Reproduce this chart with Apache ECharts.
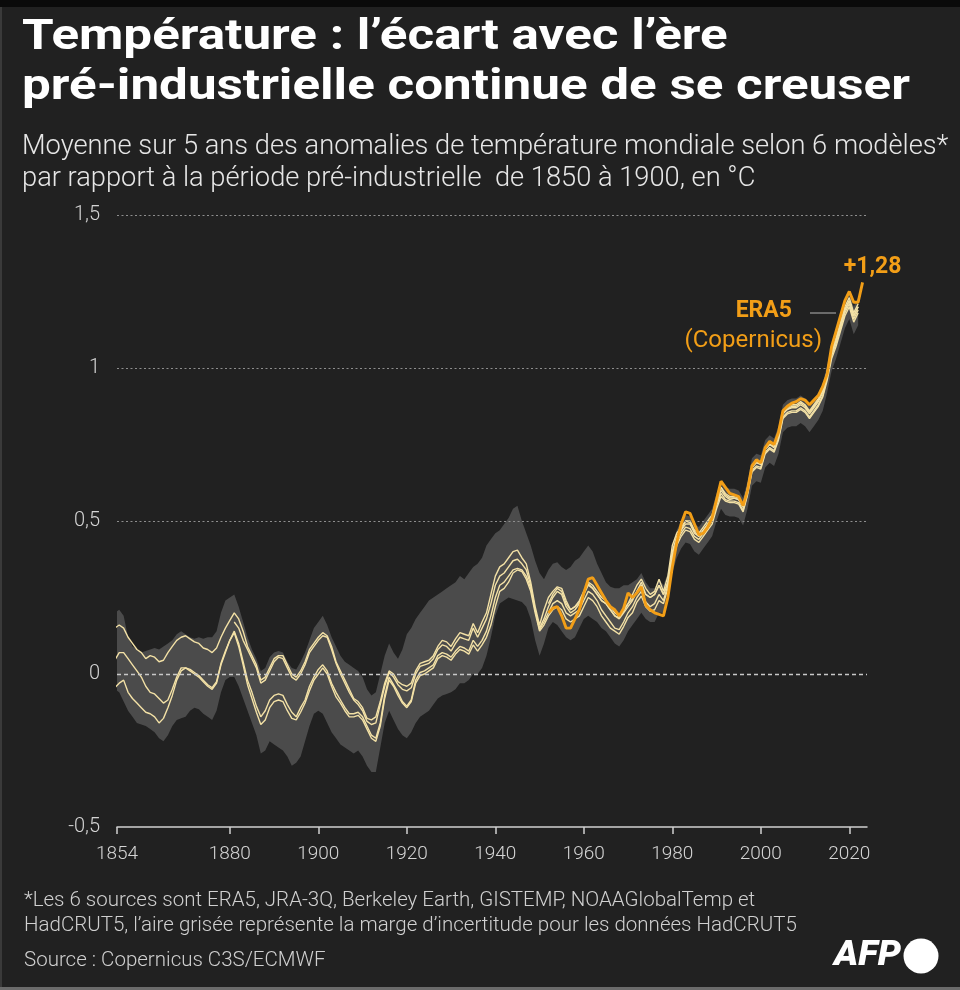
<!DOCTYPE html>
<html><head><meta charset="utf-8">
<script src="https://cdn.jsdelivr.net/npm/echarts@6/dist/echarts.min.js"></script>
<style>html,body{margin:0;padding:0;background:#212121;}#c{width:960px;height:990px;}</style>
</head><body><div id="c"></div>
<script>
// ---------------- DATA (5-year means, °C vs 1850-1900) ----------------
const startMain = 1854;   // NOAA, HadCRUT5, Berkeley, band
const startGiss = 1881;
const startJra = 1952;
const startEra5 = 1952;

const noaaGlobalTemp = [
 0.15,0.16,0.15,0.12,0.10,0.08,0.07,0.05,0.06,0.055,
 0.04,0.045,0.07,0.09,0.11,0.12,0.125,0.115,0.105,0.10,
 0.085,0.08,0.07,0.085,0.12,0.15,0.175,0.20,0.18,0.14,
 0.09,0.06,0.03,-0.02,-0.01,0.02,0.05,0.06,0.06,0.03,
 0.0,-0.01,0.01,0.04,0.08,0.10,0.12,0.135,0.125,0.09,
 0.04,0.01,-0.02,-0.05,-0.08,-0.09,-0.11,-0.145,-0.15,-0.14,
 -0.09,-0.03,0.01,0.0,-0.025,-0.035,-0.04,-0.03,0.01,0.035,
 0.04,0.045,0.06,0.09,0.11,0.105,0.09,0.115,0.135,0.13,
 0.125,0.165,0.135,0.17,0.20,0.26,0.32,0.35,0.36,0.38,
 0.40,0.405,0.38,0.36,0.30,0.22,0.16,0.21,0.25,0.27,
 0.285,0.28,0.24,0.21,0.22,0.24,0.27,0.30,0.29,0.27,
 0.25,0.24,0.22,0.20,0.19,0.21,0.23,0.26,0.29,0.31,
 0.28,0.26,0.27,0.31,0.27,0.32,0.42,0.46,0.48,0.50,
 0.50,0.47,0.46,0.48,0.50,0.52,0.57,0.61,0.59,0.58,
 0.58,0.575,0.55,0.61,0.68,0.70,0.69,0.74,0.76,0.75,
 0.79,0.86,0.87,0.88,0.88,0.89,0.88,0.86,0.88,0.90,
 0.93,0.99,1.06,1.10,1.15,1.20,1.23,1.18,1.21
];
const gistemp = [
 0.17,0.15,0.11,0.08,0.05,0.02,-0.03,-0.02,0.01,0.04,
 0.055,0.05,0.02,-0.01,-0.02,0.0,0.03,0.07,0.09,0.11,
 0.125,0.12,0.08,0.035,0.0,-0.03,-0.06,-0.085,-0.10,-0.12,
 -0.155,-0.165,-0.16,-0.10,-0.04,0.005,-0.01,-0.035,-0.05,-0.055,
 -0.045,0.0,0.025,0.03,0.035,0.05,0.08,0.095,0.09,0.075,
 0.10,0.12,0.115,0.11,0.15,0.12,0.15,0.18,0.23,0.29,
 0.32,0.33,0.35,0.37,0.375,0.36,0.34,0.29,0.21,0.15,
 0.18,0.22,0.25,0.27,0.26,0.22,0.20,0.21,0.23,0.26,
 0.29,0.28,0.26,0.24,0.23,0.21,0.19,0.18,0.20,0.22,
 0.24,0.27,0.29,0.26,0.25,0.26,0.29,0.26,0.30,0.40,
 0.45,0.47,0.49,0.49,0.46,0.45,0.47,0.49,0.51,0.56,
 0.60,0.58,0.57,0.575,0.57,0.545,0.60,0.675,0.69,0.685,
 0.735,0.75,0.74,0.78,0.85,0.865,0.87,0.87,0.88,0.87,
 0.85,0.87,0.89,0.92,0.98,1.05,1.09,1.14,1.19,1.22,
 1.17,1.20
];
const hadcrut5 = [
 0.045,0.07,0.07,0.05,0.03,0.01,-0.01,-0.04,-0.06,-0.065,
 -0.08,-0.095,-0.085,-0.05,-0.01,0.02,0.02,0.01,0.0,-0.01,
 -0.025,-0.04,-0.05,-0.03,0.03,0.07,0.11,0.14,0.10,0.04,
 -0.02,-0.06,-0.105,-0.14,-0.12,-0.085,-0.07,-0.065,-0.07,-0.10,
 -0.125,-0.14,-0.11,-0.085,-0.04,-0.01,0.015,0.03,0.01,-0.03,
 -0.06,-0.085,-0.11,-0.13,-0.13,-0.125,-0.14,-0.17,-0.20,-0.21,
 -0.16,-0.07,-0.01,-0.035,-0.06,-0.09,-0.105,-0.085,-0.02,0.005,
 0.01,0.02,0.03,0.06,0.07,0.065,0.055,0.075,0.09,0.085,
 0.075,0.11,0.09,0.11,0.14,0.19,0.25,0.29,0.30,0.32,
 0.34,0.345,0.34,0.32,0.28,0.21,0.145,0.17,0.20,0.23,
 0.24,0.23,0.20,0.19,0.20,0.21,0.24,0.27,0.26,0.24,
 0.21,0.19,0.17,0.15,0.145,0.17,0.20,0.22,0.25,0.27,
 0.235,0.22,0.23,0.26,0.24,0.29,0.38,0.43,0.46,0.48,
 0.475,0.45,0.44,0.46,0.48,0.50,0.55,0.59,0.57,0.565,
 0.565,0.56,0.535,0.59,0.665,0.68,0.675,0.725,0.74,0.73,
 0.77,0.84,0.855,0.86,0.86,0.87,0.86,0.84,0.86,0.88,
 0.91,0.97,1.04,1.08,1.13,1.18,1.21,1.16,1.19
];
const berkeleyEarth = [
 -0.045,-0.03,-0.02,-0.06,-0.08,-0.095,-0.11,-0.125,-0.13,-0.14,
 -0.16,-0.145,-0.11,-0.07,-0.02,0.01,0.02,0.015,0.005,-0.005,
 -0.02,-0.035,-0.045,-0.025,0.035,0.075,0.11,0.135,0.09,0.03,
 -0.035,-0.08,-0.125,-0.165,-0.15,-0.11,-0.09,-0.085,-0.09,-0.12,
 -0.145,-0.15,-0.125,-0.095,-0.055,-0.02,0.0,0.02,0.0,-0.04,
 -0.075,-0.095,-0.12,-0.14,-0.14,-0.135,-0.15,-0.18,-0.21,-0.22,
 -0.17,-0.08,-0.02,-0.04,-0.07,-0.095,-0.11,-0.09,-0.03,-0.005,
 0.0,0.01,0.02,0.05,0.06,0.055,0.045,0.065,0.08,0.075,
 0.065,0.095,0.075,0.095,0.12,0.16,0.22,0.27,0.28,0.30,
 0.33,0.34,0.335,0.31,0.27,0.20,0.14,0.16,0.19,0.21,
 0.22,0.21,0.18,0.17,0.18,0.19,0.22,0.25,0.24,0.22,
 0.19,0.17,0.15,0.14,0.13,0.155,0.185,0.20,0.235,0.255,
 0.22,0.205,0.21,0.24,0.23,0.28,0.37,0.42,0.45,0.47,
 0.465,0.44,0.43,0.45,0.47,0.49,0.54,0.58,0.565,0.56,
 0.56,0.555,0.53,0.585,0.66,0.675,0.67,0.72,0.735,0.725,
 0.765,0.835,0.85,0.855,0.855,0.865,0.855,0.835,0.855,0.875,
 0.905,0.96,1.03,1.07,1.12,1.17,1.20,1.15,1.18
];
const jra3q = [
 0.23,0.26,0.28,0.27,0.23,0.21,0.22,0.235,0.265,0.295,
 0.28,0.26,0.24,0.23,0.21,0.19,0.185,0.205,0.23,0.245,
 0.27,0.30,0.26,0.25,0.26,0.29,0.26,0.30,0.39,0.44,
 0.47,0.50,0.495,0.465,0.45,0.47,0.49,0.51,0.56,0.61,
 0.585,0.575,0.575,0.57,0.545,0.60,0.675,0.695,0.685,0.735,
 0.75,0.745,0.785,0.855,0.865,0.875,0.875,0.885,0.875,0.855,
 0.875,0.895,0.925,0.98,1.05,1.09,1.14,1.19,1.22,1.17,
 1.20
];
const era5 = [
 0.20,0.215,0.22,0.19,0.15,0.15,0.18,0.21,0.265,0.31,
 0.315,0.29,0.265,0.24,0.22,0.21,0.19,0.215,0.265,0.25,
 0.265,0.285,0.225,0.21,0.20,0.195,0.19,0.25,0.35,0.43,
 0.49,0.53,0.525,0.49,0.455,0.46,0.48,0.51,0.57,0.63,
 0.61,0.59,0.585,0.58,0.55,0.60,0.68,0.70,0.69,0.74,
 0.76,0.75,0.79,0.86,0.875,0.885,0.89,0.90,0.895,0.88,
 0.895,0.91,0.94,0.98,1.07,1.12,1.17,1.22,1.25,1.215,
 1.215,1.28
];
// HadCRUT5 uncertainty range (grey area)
const bandLow = [
 -0.05,-0.06,-0.09,-0.12,-0.14,-0.16,-0.165,-0.17,-0.18,-0.19,
 -0.21,-0.22,-0.20,-0.17,-0.15,-0.145,-0.14,-0.12,-0.11,-0.115,
 -0.13,-0.14,-0.15,-0.12,-0.06,-0.02,-0.01,-0.01,-0.04,-0.08,
 -0.12,-0.16,-0.20,-0.26,-0.25,-0.22,-0.23,-0.24,-0.25,-0.27,
 -0.30,-0.29,-0.27,-0.22,-0.17,-0.13,-0.12,-0.13,-0.16,-0.19,
 -0.21,-0.23,-0.24,-0.25,-0.26,-0.25,-0.27,-0.30,-0.32,-0.32,
 -0.24,-0.16,-0.12,-0.15,-0.18,-0.20,-0.21,-0.19,-0.16,-0.14,
 -0.13,-0.12,-0.10,-0.08,-0.07,-0.065,-0.06,-0.05,-0.03,-0.03,
 -0.02,0.0,0.0,0.02,0.06,0.12,0.19,0.23,0.24,0.25,
 0.245,0.24,0.235,0.22,0.18,0.11,0.06,0.10,0.15,0.17,
 0.16,0.14,0.12,0.11,0.12,0.15,0.18,0.19,0.18,0.17,
 0.15,0.14,0.12,0.10,0.09,0.11,0.14,0.16,0.18,0.20,
 0.18,0.17,0.17,0.20,0.20,0.24,0.33,0.38,0.41,0.43,
 0.425,0.40,0.39,0.41,0.43,0.45,0.50,0.54,0.52,0.515,
 0.515,0.51,0.485,0.54,0.615,0.63,0.625,0.675,0.69,0.68,
 0.72,0.79,0.805,0.81,0.81,0.82,0.81,0.79,0.81,0.83,
 0.86,0.92,0.99,1.03,1.08,1.13,1.16,1.11,1.14
];
const bandHigh = [
 0.20,0.21,0.19,0.12,0.09,0.08,0.07,0.075,0.08,0.085,
 0.08,0.09,0.10,0.11,0.13,0.14,0.13,0.12,0.115,0.12,
 0.115,0.12,0.12,0.14,0.20,0.24,0.25,0.26,0.22,0.17,
 0.12,0.08,0.05,0.01,0.02,0.055,0.07,0.075,0.07,0.04,
 0.02,0.015,0.04,0.07,0.11,0.15,0.17,0.19,0.16,0.12,
 0.09,0.06,0.04,0.03,0.02,0.01,-0.01,-0.05,-0.07,-0.06,
 0.0,0.06,0.10,0.07,0.05,0.08,0.13,0.15,0.18,0.20,
 0.22,0.24,0.25,0.26,0.27,0.28,0.29,0.30,0.32,0.31,
 0.33,0.35,0.36,0.38,0.42,0.44,0.46,0.47,0.49,0.51,
 0.54,0.55,0.50,0.46,0.42,0.37,0.33,0.31,0.34,0.36,
 0.365,0.35,0.34,0.35,0.37,0.38,0.40,0.42,0.40,0.36,
 0.33,0.30,0.285,0.28,0.28,0.29,0.29,0.30,0.31,0.33,
 0.30,0.28,0.28,0.31,0.29,0.33,0.42,0.47,0.50,0.52,
 0.515,0.49,0.48,0.50,0.52,0.54,0.59,0.63,0.61,0.605,
 0.605,0.60,0.575,0.63,0.705,0.72,0.715,0.765,0.78,0.77,
 0.81,0.88,0.895,0.90,0.90,0.91,0.90,0.88,0.90,0.92,
 0.95,1.01,1.08,1.12,1.17,1.22,1.25,1.20,1.23
];
const xTickValues = [1854.5, 1880, 1900, 1920, 1940, 1960, 1980, 2000, 2020];
const xTickLabels = ['1854','1880','1900','1920','1940','1960','1980','2000','2020'];
const yGridValues = [0.5, 1, 1.5];
const lastValueLabel = '+1,28';

// ---------------- BUILD ----------------
const pairs = (start, arr) => arr.map((v, i) => [start + i, v]);

const FONT = "Roboto, 'Noto Sans', sans-serif";
const CREAM = '#f3e1a6';
const ORANGE = '#f29e17';

function whiteLine(name, start, arr) {
  return {
    name, type: 'line', data: pairs(start, arr), showSymbol: false, symbol: 'none',
    lineStyle: { color: CREAM, width: 1.4 }, z: 3, silent: true
  };
}

function txt(x, y, text, font, fill, align, sx) {
  return { type: 'text', x, y, scaleX: sx || 1, silent: true,
    style: { text, font, fill, align: align || 'left', textAlign: align || 'left',
             verticalAlign: 'middle', textVerticalAlign: 'middle' } };
}

const chart = echarts.init(document.getElementById('c'), null, { renderer: 'canvas' });
chart.setOption({
  animation: false,
  backgroundColor: '#212121',
  grid: { left: 117, top: 215, width: 750, height: 612, containLabel: false },
  xAxis: {
    type: 'value', min: 1854.5, max: 2024,
    axisLine: { show: true, onZero: false, lineStyle: { color: '#d0d0d0', width: 1.5 } },
    axisTick: { show: true, customValues: xTickValues, length: 7, inside: false,
                lineStyle: { color: '#d0d0d0', width: 1.5 } },
    axisLabel: { customValues: xTickValues, margin: 18, color: '#d4d4d4',
                 fontFamily: FONT, fontWeight: 300, fontSize: 19,
                 formatter: v => xTickLabels[xTickValues.indexOf(v)] || String(v) },
    splitLine: { show: false }
  },
  yAxis: {
    type: 'value', min: -0.5, max: 1.5, interval: 0.5,
    axisLine: { show: false }, axisTick: { show: false },
    axisLabel: { margin: 17, color: '#d4d4d4', fontFamily: FONT, fontWeight: 300, fontSize: 20,
                 formatter: v => String(v).replace('.', ',') },
    splitLine: { show: false }
  },
  series: [
    { name: 'HadCRUT5 range', type: 'custom', z: 1, silent: true, clip: true,
      data: [[startMain, 0]], encode: { x: 0, y: 1 },
      renderItem: (params, api) => {
        const pts = [];
        for (let i = 0; i < bandHigh.length; i++) pts.push(api.coord([startMain + i, bandHigh[i]]));
        for (let i = bandLow.length - 1; i >= 0; i--) pts.push(api.coord([startMain + i, bandLow[i]]));
        const cs = params.coordSys;
        return { type: 'polygon', shape: { points: pts }, style: { fill: '#4b4b4b' },
                 clipPath: { type: 'rect', shape: { x: cs.x, y: cs.y, width: cs.width, height: cs.height } } };
      } },
    { name: 'grid', type: 'line', data: pairs(startMain, hadcrut5), symbol: 'none',
      lineStyle: { width: 0, opacity: 0 }, z: 2, silent: true,
      markLine: {
        silent: true, symbol: 'none', label: { show: false }, animation: false,
        data: yGridValues.map(v => ({ yAxis: v, lineStyle: { color: '#8e8e8e', width: 1, type: [2, 2.5] } }))
          .concat([{ yAxis: 0, lineStyle: { color: '#c8c8c8', width: 1.4, type: [4, 3] } }])
      } },
    whiteLine('NOAAGlobalTemp', startMain, noaaGlobalTemp),
    whiteLine('GISTEMP', startGiss, gistemp),
    whiteLine('HadCRUT5', startMain, hadcrut5),
    whiteLine('Berkeley Earth', startMain, berkeleyEarth),
    whiteLine('JRA-3Q', startJra, jra3q),
    { name: 'ERA5', type: 'line', data: pairs(startEra5, era5), symbol: 'none', showSymbol: false,
      lineStyle: { color: ORANGE, width: 2.9 }, z: 5, silent: true,
      markPoint: {
        silent: true, symbol: 'circle', symbolSize: 0,
        data: [{ coord: [startEra5 + era5.length - 1, era5[era5.length - 1]] }],
        label: { show: true, position: 'top', distance: 4, offset: [10, 0],
                 formatter: lastValueLabel, color: ORANGE, fontFamily: FONT,
                 fontWeight: 'bold', fontSize: 23 }
      } }
  ],
  graphic: [
    { type: 'rect', silent: true, shape: { x: 0, y: 0, width: 960, height: 7 }, style: { fill: '#0a0a0a' } },
    { type: 'rect', silent: true, shape: { x: 0, y: 987, width: 960, height: 3 }, style: { fill: '#6b6b6b' } },
    { type: 'rect', silent: true, shape: { x: 0, y: 7, width: 2, height: 980 }, style: { fill: '#3a3a3a' } },
    txt(22, 38, 'Température : l’écart avec l’ère', 'bold 43px ' + FONT, '#ffffff', 'left', 1.19),
    txt(22, 88, 'pré-industrielle continue de se creuser', 'bold 43px ' + FONT, '#ffffff', 'left', 1.19),
    txt(22, 147, 'Moyenne sur 5 ans des anomalies de température mondiale selon 6 modèles*', '300 27px ' + FONT, '#e6e6e6', 'left', 1.01),
    txt(22, 179, 'par rapport à la période pré-industrielle  de 1850 à 1900, en °C', '300 27px ' + FONT, '#e6e6e6', 'left', 1.01),
    txt(792, 311, 'ERA5', 'bold 23px ' + FONT, ORANGE, 'right'),
    txt(822, 341, '(Copernicus)', '24px ' + FONT, ORANGE, 'right'),
    { type: 'line', silent: true, shape: { x1: 810, y1: 313, x2: 836, y2: 313 }, style: { stroke: '#b5b5b5', lineWidth: 1 } },
    txt(24, 901, '*Les 6 sources sont ERA5, JRA-3Q, Berkeley Earth, GISTEMP, NOAAGlobalTemp et', '300 20.5px ' + FONT, '#d0d0d0'),
    txt(24, 926, 'HadCRUT5, l’aire grisée représente la marge d’incertitude pour les données HadCRUT5', '300 20.5px ' + FONT, '#d0d0d0'),
    txt(24, 961, 'Source : Copernicus C3S/ECMWF', '300 20.5px ' + FONT, '#d0d0d0'),
    txt(834, 956, 'AFP', 'italic 900 35px ' + FONT, '#ffffff', 'left', 1.05),
    { type: 'circle', silent: true, shape: { cx: 921, cy: 956, r: 17.5 }, style: { fill: '#ffffff' } }
  ]
});
</script></body></html>
